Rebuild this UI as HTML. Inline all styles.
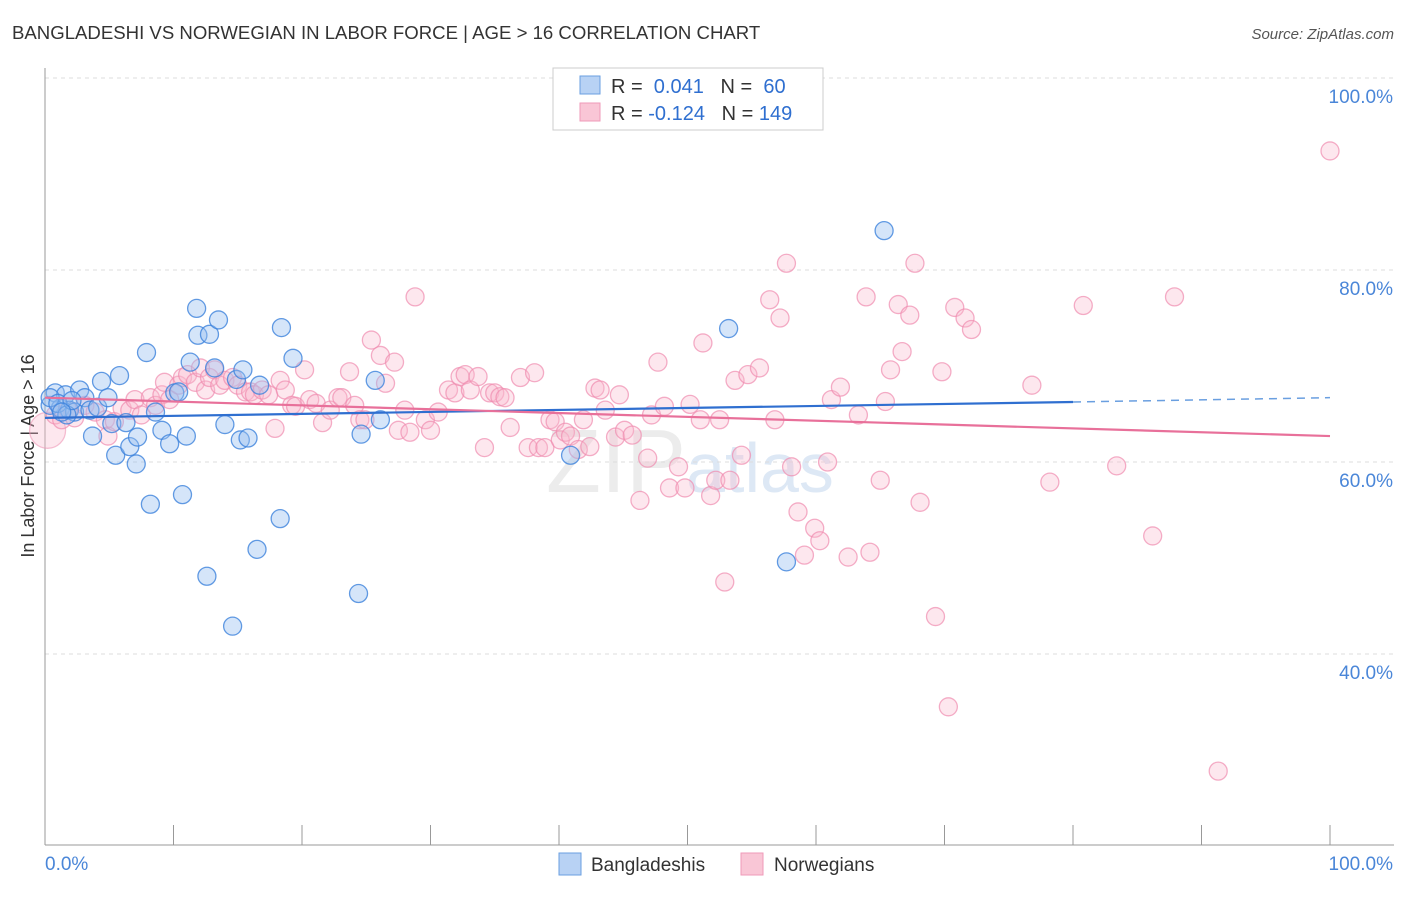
<!DOCTYPE html>
<html><head><meta charset="utf-8">
<style>
body{margin:0;background:#fff;font-family:"Liberation Sans",sans-serif;}
svg text{font-family:"Liberation Sans",sans-serif;}
</style></head>
<body>
<svg id="chart" width="1406" height="892" xmlns="http://www.w3.org/2000/svg">
<text x="12" y="39" font-size="18.6" fill="#333">BANGLADESHI VS NORWEGIAN IN LABOR FORCE | AGE &gt; 16 CORRELATION CHART</text>
<text x="1394" y="39" font-size="15" fill="#555" font-style="italic" text-anchor="end">Source: ZipAtlas.com</text>
<text x="34" y="456" font-size="18" fill="#333" transform="rotate(-90 34 456)" text-anchor="middle">In Labor Force | Age &gt; 16</text>
<text x="690" y="492" font-size="90" fill="#ececec" text-anchor="middle" font-family="Liberation Serif">ZIP<tspan font-size="70" fill="#dde8f5" font-family="Liberation Sans">atlas</tspan></text>
<g id="grid"></g><g id="pts"></g><g id="trend"></g>
<g>
<rect x="553" y="68" width="270" height="62" fill="#fff" stroke="#ccc"/>
<rect x="580" y="76" width="20" height="18" fill="#b8d2f4" stroke="#6a9fe0"/>
<rect x="580" y="103" width="20" height="18" fill="#f9c6d6" stroke="#ef9ab8"/>
<text x="611" y="93" font-size="20" fill="#333">R = <tspan fill="#2f6fd0">&#160;0.041</tspan>&#160;&#160;&#160;N = <tspan fill="#2f6fd0">&#160;60</tspan></text>
<text x="611" y="120" font-size="20" fill="#333">R = <tspan fill="#2f6fd0">-0.124</tspan>&#160;&#160;&#160;N = <tspan fill="#2f6fd0">149</tspan></text>
</g>
<g>
<rect x="559" y="853" width="22" height="22" fill="#b8d2f4" stroke="#6a9fe0"/>
<text x="591" y="871" font-size="19" fill="#333">Bangladeshis</text>
<rect x="741" y="853" width="22" height="22" fill="#f9c6d6" stroke="#ef9ab8"/>
<text x="774" y="871" font-size="19" fill="#333">Norwegians</text>
</g>
</svg>
<script>
const blueX=[0.4,0.8,1.2,1.6,1.9,2.3,2.7,3.1,3.5,3.7,4.1,4.4,4.9,5.2,5.5,5.8,6.3,6.6,7.1,7.2,7.9,8.2,8.6,9.1,9.7,10.1,10.4,10.7,11.0,11.3,11.8,11.9,12.6,12.8,13.2,13.5,14.0,14.6,14.9,15.2,15.4,15.8,16.5,16.7,18.3,18.4,19.3,24.4,24.6,25.7,26.1,40.9,53.2,57.7,65.3,0.4,1.0,1.7,2.1,1.3];
const blueY=[65.9,67.2,65.6,67.0,65.4,65.2,67.5,66.7,65.4,62.7,65.7,68.4,66.7,64.0,60.7,69.0,64.1,61.6,59.8,62.6,71.4,55.6,65.2,63.3,61.9,67.2,67.3,56.6,62.7,70.4,76.0,73.2,48.1,73.3,69.8,74.8,63.9,42.9,68.6,62.3,69.6,62.5,50.9,68.0,54.1,74.0,70.8,46.3,62.9,68.5,64.4,60.7,73.9,49.6,84.1,66.7,66.1,64.9,66.4,65.2];
const pinkX=[0.8,1.3,1.8,2.3,3.1,3.9,4.7,4.9,5.4,6.0,6.6,7.0,7.5,8.2,8.6,9.1,9.3,9.7,10.4,10.7,11.1,11.7,12.1,12.5,12.8,13.2,13.6,14.0,14.6,15.0,15.6,16.0,16.3,16.9,17.4,17.9,18.3,18.7,19.2,19.5,20.2,20.6,21.1,21.6,22.2,22.8,23.1,23.7,24.1,24.5,24.9,25.4,26.1,26.5,27.2,27.5,28.0,28.4,28.8,29.6,30.0,30.6,31.4,31.9,32.3,32.7,33.1,33.7,34.2,34.6,35.0,35.4,35.8,36.2,37.0,37.6,38.1,38.4,38.9,39.3,39.7,40.1,40.5,40.9,41.5,41.9,42.4,42.8,43.2,43.6,44.4,44.7,45.1,45.7,46.3,46.9,47.2,47.7,48.2,48.6,49.3,49.8,50.2,51.0,51.2,51.8,52.2,52.5,52.9,53.3,53.7,54.2,54.7,55.6,56.4,56.8,57.2,57.7,58.1,58.6,59.1,59.9,60.3,60.9,61.2,61.9,62.5,63.3,63.9,64.2,65.0,65.4,65.8,66.4,66.7,67.3,67.7,68.1,69.3,70.3,69.8,70.8,71.6,72.1,76.8,78.2,80.8,83.4,86.2,87.9,91.3,100.0];
const pinkY=[64.9,64.4,65.4,64.6,65.9,65.2,64.4,62.7,64.2,65.6,65.4,66.5,64.9,66.7,65.9,67.0,68.3,66.5,68.0,68.8,69.1,68.3,69.8,67.5,68.8,69.6,68.0,68.5,68.8,68.0,67.3,67.3,67.0,67.5,67.0,63.5,68.5,67.5,65.9,65.8,69.6,66.5,66.1,64.1,65.4,66.7,66.7,69.4,65.9,64.4,64.4,72.7,71.1,68.2,70.4,63.3,65.4,63.1,77.2,64.4,63.3,65.2,67.5,67.2,68.9,69.1,67.5,68.9,61.5,67.2,67.2,66.8,66.7,63.6,68.8,61.5,69.3,61.5,61.5,64.4,64.2,62.3,63.1,62.7,61.3,64.4,61.6,67.7,67.5,65.4,62.6,67.0,63.3,62.8,56.0,60.4,64.9,70.4,65.8,57.3,59.5,57.3,66.0,64.4,72.4,56.5,58.1,64.4,47.5,58.1,68.5,60.7,69.1,69.8,76.9,64.4,75.0,80.7,59.5,54.8,50.3,53.1,51.8,60.0,66.5,67.8,50.1,64.9,77.2,50.6,58.1,66.3,69.6,76.4,71.5,75.3,80.7,55.8,43.9,34.5,69.4,76.1,75.0,73.8,68.0,57.9,76.3,59.6,52.3,77.2,27.8,92.4];
const bigPinkX=[0.2], bigPinkY=[63.3];
const blueTrend=[64.6,66.25,66.7]; // y at x=0, 80, 100
const pinkTrend=[66.7,62.7];       // y at x=0, 100
const yTicks=[100,80,60,40];
const xTicks=[0,10,20,30,40,50,60,70,80,90,100];

const NS="http://www.w3.org/2000/svg";
const X=v=>45+v*12.85;
const Y=v=>78+(100-v)*9.6;
function mk(tag,attrs,parent){const e=document.createElementNS(NS,tag);for(const k in attrs)e.setAttribute(k,attrs[k]);parent.appendChild(e);return e;}
const grid=document.getElementById('grid');
yTicks.forEach(t=>{
  const l=mk('line',{x1:45,x2:1394,y1:Y(t),y2:Y(t),stroke:'#ddd','stroke-dasharray':'4,4'},grid);
  
  
  const tx=mk('text',{x:1393,y:Y(t)+25,'font-size':19,fill:'#4a86d8','text-anchor':'end'},grid);
  tx.textContent=t.toFixed(1)+'%';
  
  
});
const ax=mk('line',{x1:45,x2:45,y1:68,y2:845,stroke:'#999'},grid);


const bx=mk('line',{x1:45,x2:1394,y1:845,y2:845,stroke:'#999'},grid);


xTicks.forEach(t=>{
  const l=mk('line',{x1:X(t),x2:X(t),y1:825,y2:845,stroke:'#999'},grid);
  
  
});
[[0,'start'],[100,'end']].forEach(([t,a])=>{
  const tx=mk('text',{x:t==0?45:1393,y:870,'font-size':19,fill:'#4a86d8','text-anchor':a},grid);
  tx.textContent=t.toFixed(1)+'%';
  
  
});
const pts=document.getElementById('pts');
function dots(xs,ys,r,fill,stroke,name){
  xs.forEach((x,i)=>{
    const c=mk('circle',{cx:X(x),cy:Y(ys[i]),r:r,fill:fill,stroke:stroke,'stroke-width':1.3},pts);
    
    
  });
}
dots(bigPinkX,bigPinkY,18,'rgba(248,185,205,0.35)','rgba(239,150,182,0.6)','norwegian-point');
dots(pinkX,pinkY,9,'rgba(248,185,205,0.35)','rgba(239,140,175,0.7)','norwegian-point');
dots(blueX,blueY,9,'rgba(150,190,240,0.4)','rgba(60,130,220,0.8)','bangladeshi-point');
const tr=document.getElementById('trend');
const b1=mk('line',{x1:X(0),y1:Y(blueTrend[0]),x2:X(80),y2:Y(blueTrend[1]),stroke:'#2f6fd0','stroke-width':2.2},tr);


const b2=mk('line',{x1:X(80),y1:Y(blueTrend[1]),x2:X(100),y2:Y(blueTrend[2]),stroke:'#6a9fe0','stroke-width':1.5,'stroke-dasharray':'8,6'},tr);


const p1=mk('line',{x1:X(0),y1:Y(pinkTrend[0]),x2:X(100),y2:Y(pinkTrend[1]),stroke:'#e8709a','stroke-width':2.2},tr);


</script>
</body></html>
